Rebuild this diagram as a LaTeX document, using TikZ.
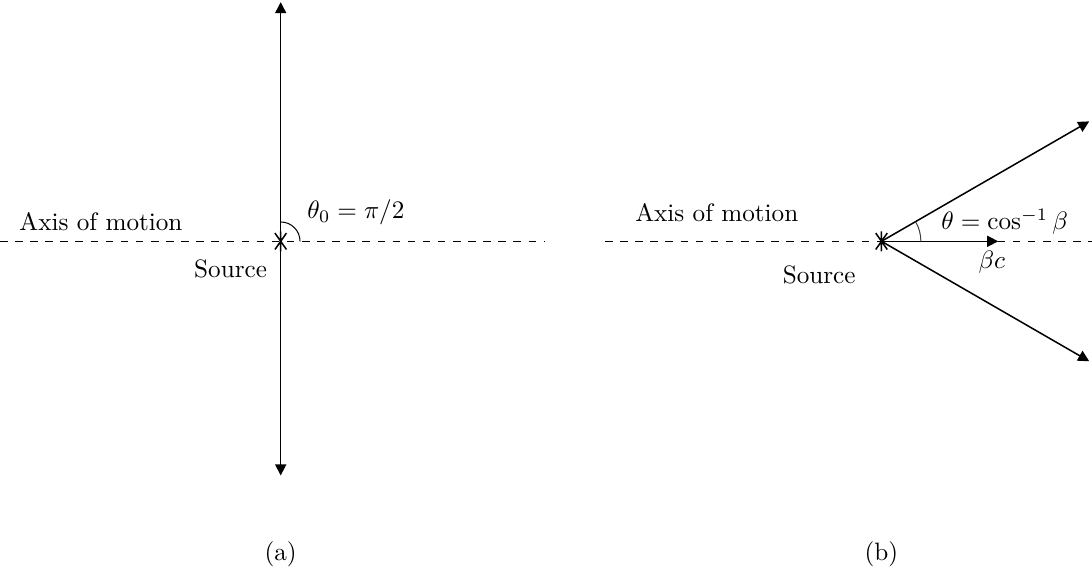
\documentclass[tikz,border=0pt]{standalone}
\usepackage{amsmath}
\usetikzlibrary{arrows.meta,positioning,calc}

\begin{document}
\begin{tikzpicture}[
    axis/.style={dashed},
    arr/.style={semithick, -{Triangle[length=4.4pt,width=4.4pt]}},
    anglearc/.style={thin, black!75},
    srcstar/.pic={\draw[semithick] (0,-0.14) -- (0,0.14) (-125:0.14) -- (55:0.14) (125:0.14) -- (-55:0.14);}
    ]
    \useasboundingbox (-3.92,-4.61) rectangle (11.33,3.37);
    % (a) source at rest
    \coordinate (srcA) at (0,0);
    \coordinate (axAl) at (-3.92,0);
    \coordinate (axAr) at (3.69,0);
    \coordinate (upA)  at (0,3.34);
    \coordinate (dnA)  at (0,-3.27);
    \draw[axis] (axAl) -- (axAr);
    \draw[arr] (srcA) -- (upA);
    \draw[arr] (srcA) -- (dnA);
    \draw ([xshift=0.27cm]srcA) arc[start angle=0, end angle=90, radius=0.27];
    \pic at (srcA) {srcstar};
    \node (axislblA) at (-2.51,0.28)  {Axis of motion};
    \node (srclblA)  at (-0.70,-0.38) {Source};
    \node (thetaA)   at (1.05,0.40)   {$\theta_0=\pi/2$};
    \node (capA)     at (0,-4.37)     {(a)};
    % (b) moving source
    \coordinate (srcB) at (8.39,0);
    \coordinate (axBl) at (4.53,0);
    \coordinate (axBr) at (11.33,0);
    \coordinate (upB)  at ($(srcB)+(30:3.35)$);
    \coordinate (dnB)  at ($(srcB)+(-30:3.35)$);
    \coordinate (velB) at ($(srcB)+(1.63,0)$);
    \draw[axis] (axBl) -- (axBr);
    \draw[arr] (srcB) -- (upB);
    \draw[arr] (srcB) -- (dnB);
    \draw[arr] (srcB) -- (velB);
    \draw[anglearc] ([xshift=0.55cm]srcB) arc[start angle=0, end angle=30, radius=0.55];
    \pic at (srcB) {srcstar};
    \node (axislblB) at ($(srcB)+(-2.30,0.40)$)  {Axis of motion};
    \node (srclblB)  at ($(srcB)+(-0.87,-0.47)$) {Source};
    \node (thetaB)   at ($(srcB)+(1.72,0.27)$)   {$\theta=\cos^{-1}\beta$};
    \node (velblB)   at ($(srcB)+(1.54,-0.29)$)  {$\beta c$};
    \node (capB)     at ($(srcB)+(0,-4.37)$)     {(b)};
\end{tikzpicture}
\end{document}
